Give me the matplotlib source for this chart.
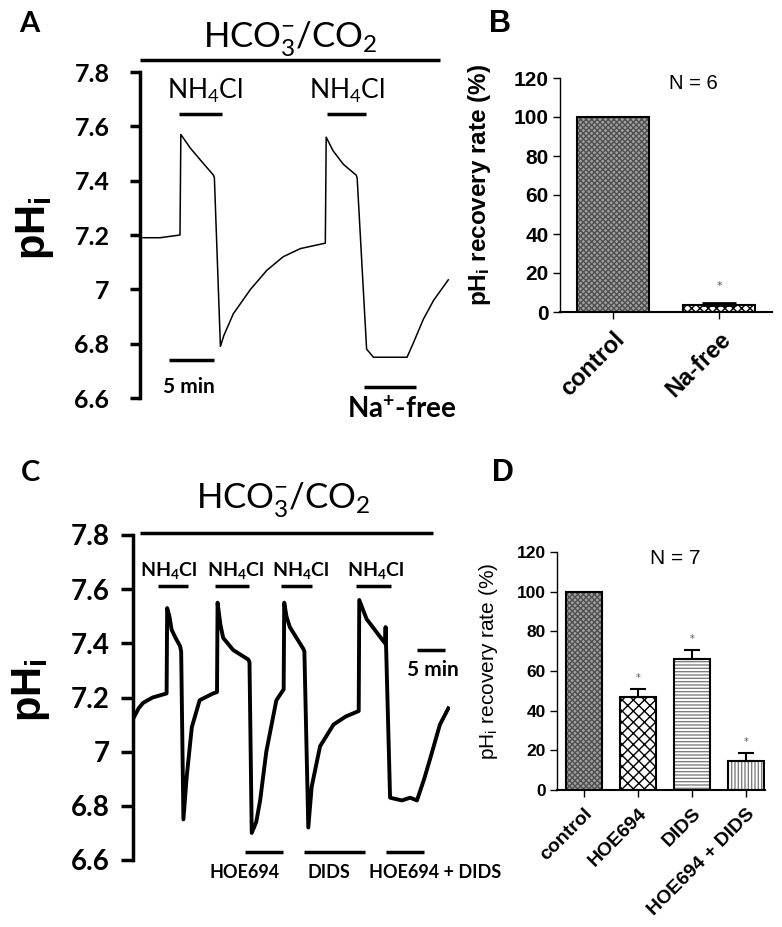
import matplotlib
matplotlib.use("Agg")
import matplotlib.pyplot as plt

plt.rcParams["mathtext.default"] = "regular"
plt.rcParams["hatch.linewidth"] = 1.0

W, H = 782, 927

# panel A trace: time (min), pHi
a_time = [0.0, 2.0, 4.3, 4.4, 5.5, 6.7, 8.2, 8.3, 9.0, 9.4, 10.5, 12.5, 14.4, 16.3, 18.3,
          21.2, 21.3, 22.1, 23.3, 24.8, 24.9, 26.0, 26.8, 28.5, 30.7, 31.4, 32.6, 33.8, 35.5]
a_ph = [7.19, 7.19, 7.20, 7.57, 7.52, 7.475, 7.42, 7.41, 6.79, 6.83, 6.91, 7.00, 7.07, 7.12, 7.15,
        7.17, 7.56, 7.51, 7.46, 7.42, 7.41, 6.78, 6.75, 6.75, 6.75, 6.80, 6.89, 6.96, 7.035]

# panel C trace
c_time = [0.0, 1.0, 1.8, 3.5, 6.0, 6.1, 6.5, 6.9, 7.6, 8.4, 8.6, 9.0, 9.6, 10.5, 11.9,
          14.3, 15.0, 15.1, 15.6, 16.1, 17.9, 20.6, 20.8, 21.2, 22.0, 22.7, 23.8, 25.6, 26.9, 27.0,
          27.4, 28.0, 30.4, 30.6, 31.3, 31.9, 33.4, 35.8, 38.0, 40.3, 40.4, 41.7, 45.0, 45.1, 45.2,
          45.9, 48.0, 49.5, 50.7, 52.0, 53.0, 54.8, 56.3]
c_ph = [7.12, 7.16, 7.18, 7.20, 7.215, 7.53, 7.50, 7.45, 7.42, 7.39, 7.37, 6.75, 6.91, 7.09, 7.19,
        7.215, 7.22, 7.55, 7.47, 7.42, 7.375, 7.34, 7.33, 6.70, 6.74, 6.82, 7.00, 7.19, 7.23, 7.55,
        7.50, 7.46, 7.38, 7.37, 6.72, 6.87, 7.02, 7.10, 7.13, 7.15, 7.56, 7.49, 7.40, 7.46, 7.38,
        6.83, 6.82, 6.83, 6.82, 6.90, 6.97, 7.10, 7.16]

ph_ticks = [6.6, 6.8, 7.0, 7.2, 7.4, 7.6, 7.8]
ph_ticklabels = ["6.6", "6.8", "7", "7.2", "7.4", "7.6", "7.8"]

# panel B bars
b_groups = ["control", "Na-free"]
b_rate = [100, 3.5]
b_err = [0, 1.0]

# panel D bars
d_groups = ["control", "HOE694", "DIDS", "HOE694 + DIDS"]
d_rate = [100, 47, 66, 14.5]
d_err = [0, 4, 4.5, 4]
d_sig = [False, True, True, True]

rate_ticks = [0, 20, 40, 60, 80, 100, 120]

CAL = "Lato"
ARIAL = "Liberation Sans"
HCO3 = r"HCO$_3^{-}$/CO$_2$"
NH4CL = r"NH$_4$Cl"


def box(x0, y0, x1, y1):
    return [x0 / W, 1 - y1 / H, (x1 - x0) / W, (y1 - y0) / H]


def trace_axes(ax, xlim, tick_len, pad, size):
    ax.set_xlim(*xlim)
    ax.set_ylim(6.6, 7.8)
    for s in ["top", "right", "bottom"]:
        ax.spines[s].set_visible(False)
    ax.spines["left"].set_linewidth(2.5)
    ax.set_xticks([])
    ax.set_yticks(ph_ticks)
    ax.set_yticklabels(ph_ticklabels, family=CAL, fontweight="bold", fontsize=size)
    ax.tick_params(axis="y", length=tick_len, width=2.5, pad=pad)
    ax.patch.set_visible(False)


def hbar(ax, x0, x1, y, lw=2.5):
    ax.plot([x0, x1], [y, y], color="black", lw=lw, clip_on=False, solid_capstyle="butt")


def bar_axes(ax, groups, xlim, tsize, lsize):
    ax.set_xlim(*xlim)
    ax.set_ylim(0, 120)
    ax.spines["top"].set_visible(False)
    ax.spines["right"].set_visible(False)
    ax.spines["left"].set_linewidth(1.0)
    ax.spines["bottom"].set_linewidth(1.5)
    ax.set_yticks(rate_ticks)
    ax.set_yticklabels([str(t) for t in rate_ticks], family=ARIAL, fontweight="bold", fontsize=tsize)
    ax.set_xticks(range(len(groups)))
    ax.set_xticklabels(groups, family=ARIAL, fontweight="bold", fontsize=lsize,
                       rotation=45, ha="right", rotation_mode="anchor")
    ax.tick_params(axis="both", length=5, width=1.0, pad=3)
    ax.tick_params(axis="x", pad=6)


fig = plt.figure(figsize=(W / 100, H / 100), dpi=100)

# ---------------- A ----------------
axA = fig.add_axes(box(140, 72, 452, 398))
trace_axes(axA, (-0.35, 35.93), 7, 15, 18)
axA.plot(a_time, a_ph, color="black", lw=1.1)
hbar(axA, -0.35, 34.5, 7.844)
axA.text(17.1, 7.925, HCO3, ha="center", va="center", fontsize=25, family=CAL)
for xc, (x0, x1) in zip([7.2, 23.7], [(4.2, 9.2), (21.4, 25.9)]):
    axA.text(xc, 7.73, NH4CL, ha="center", va="center", fontsize=19, family=CAL)
    hbar(axA, x0, x1, 7.645)
hbar(axA, 3.06, 8.2, 6.74)
axA.text(5.3, 6.64, "5 min", ha="center", va="center", fontsize=15, family=CAL, fontweight="bold")
hbar(axA, 25.7, 31.8, 6.64)
axA.text(30.1, 6.556, r"Na$^{+}$-free", ha="center", va="center", fontsize=20, family=CAL,
         fontweight="bold", clip_on=False)
fig.text(35 / W, 1 - 228 / H, r"pH$_i$", rotation=90, ha="center", va="center",
         fontsize=30, family=ARIAL, fontweight="bold")
fig.text(29 / W, 1 - 24 / H, "A", ha="center", va="center", fontsize=21, family=CAL, fontweight="bold")

# ---------------- C ----------------
axC = fig.add_axes(box(133, 535, 450, 860))
trace_axes(axC, (0, 56.6), 8.6, 8, 20)
axC.plot(c_time, c_ph, color="black", lw=2.8)
hbar(axC, 1.25, 53.6, 7.807)
axC.text(26.8, 7.93, HCO3, ha="center", va="center", fontsize=25, family=CAL)
for xc, (x0, x1) in zip([6.4, 18.4, 30.0, 43.3], [(4.5, 9.9), (14.6, 20.8), (26.4, 31.9), (39.8, 46.0)]):
    axC.text(xc, 7.67, NH4CL, ha="center", va="center", fontsize=14, family=CAL, fontweight="bold")
    hbar(axC, x0, x1, 7.61)
for xc, (x0, x1), lab in zip([20.0, 34.9, 53.9], [(20.0, 26.8), (30.6, 41.5), (45.1, 52.0)],
                             ["HOE694", "DIDS", "HOE694 + DIDS"]):
    hbar(axC, x0, x1, 6.63)
    axC.text(xc, 6.553, lab, ha="center", va="center", fontsize=13, family=CAL,
             fontweight="bold", clip_on=False)
hbar(axC, 50.7, 55.7, 7.375)
axC.text(53.5, 7.30, "5 min", ha="center", va="center", fontsize=15, family=CAL, fontweight="bold")
fig.text(31 / W, 1 - 690 / H, r"pH$_i$", rotation=90, ha="center", va="center",
         fontsize=30, family=ARIAL, fontweight="bold")
fig.text(30 / W, 1 - 473 / H, "C", ha="center", va="center", fontsize=21, family=CAL, fontweight="bold")

# ---------------- B ----------------
axB = fig.add_axes(box(560, 78, 772, 312))
bar_axes(axB, b_groups, (-0.5, 1.5), 15, 17)
b_style = [("#a0a0a0", "#505050", "xxxxxx"), ("white", "black", "xxxx")]
for i, (v, (fc, hc, ht)) in enumerate(zip(b_rate, b_style)):
    axB.bar(i, v, 0.67, color=fc, edgecolor=hc, hatch=ht, linewidth=0, zorder=2)
axB.bar(range(2), b_rate, 0.67, fill=False, edgecolor="black", linewidth=1.5, zorder=3)
axB.errorbar([1], [b_rate[1]], yerr=[[0], [b_err[1]]], fmt="none", ecolor="black",
             elinewidth=1.5, capsize=12, capthick=2, zorder=4)
axB.text(1, b_rate[1] + b_err[1] + 9, "*", ha="center", va="center", fontsize=8, color="#555555")
axB.text(0.755, 117, "N = 6", ha="center", va="center", fontsize=14.5, family=ARIAL)
axB.set_ylabel(r"pH$_i$ recovery rate (%)", family=ARIAL, fontweight="bold", fontsize=17.5)
axB.yaxis.set_label_coords((493 - 560) / 212, 0.543)
fig.text(500 / W, 1 - 24 / H, "B", ha="center", va="center", fontsize=22, family=ARIAL, fontweight="bold")

# ---------------- D ----------------
axD = fig.add_axes(box(557, 552, 765, 790))
bar_axes(axD, d_groups, (-0.5, 3.35), 12.5, 14)
d_style = [("#a0a0a0", "#505050", "xxxxxx"), ("white", "black", "xxx"),
           ("white", "#808080", "-----"), ("white", "#808080", "|||||")]
for i, (v, (fc, hc, ht)) in enumerate(zip(d_rate, d_style)):
    axD.bar(i, v, 0.67, color=fc, edgecolor=hc, hatch=ht, linewidth=0, zorder=2)
axD.bar(range(4), d_rate, 0.67, fill=False, edgecolor="black", linewidth=1.5, zorder=3)
for i, (v, e, s) in enumerate(zip(d_rate, d_err, d_sig)):
    if not s:
        continue
    axD.errorbar([i], [v], yerr=[[0], [e]], fmt="none", ecolor="black",
                 elinewidth=1.5, capsize=6, capthick=1.5, zorder=4)
    axD.text(i, v + e + 5.5, "*", ha="center", va="center", fontsize=7, color="#555555")
axD.text(1.685, 116.5, "N = 7", ha="center", va="center", fontsize=15, family=ARIAL)
axD.set_ylabel(r"pH$_i$ recovery rate (%)", family=ARIAL, fontsize=15)
axD.yaxis.set_label_coords((500 - 557) / 208, 0.54)
fig.text(503 / W, 1 - 473 / H, "D", ha="center", va="center", fontsize=22, family=ARIAL, fontweight="bold")

fig.savefig("out.png", dpi=100)
